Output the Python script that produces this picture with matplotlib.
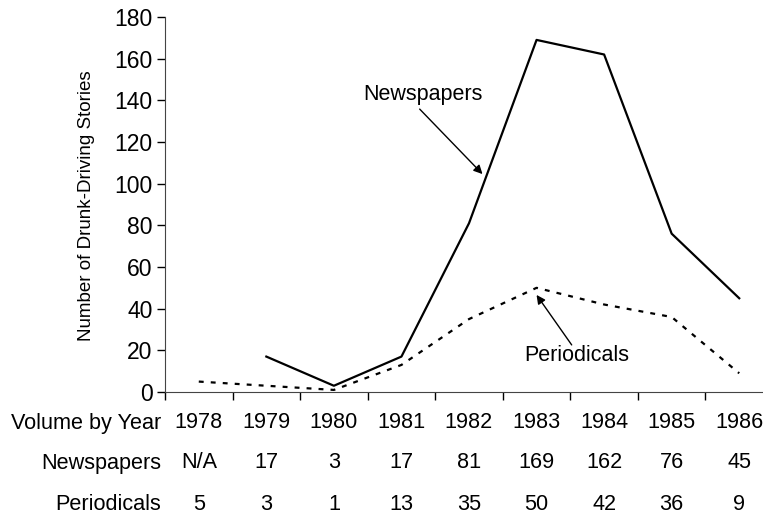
import numpy as np
import matplotlib
matplotlib.use("Agg")
import matplotlib.pyplot as plt

plt.rcParams['font.family'] = ['Liberation Sans', 'DejaVu Sans']

years = ['1978', '1979', '1980', '1981', '1982', '1983', '1984', '1985', '1986']
newspapers = [np.nan, 17, 3, 17, 81, 169, 162, 76, 45]
periodicals = [5, 3, 1, 13, 35, 50, 42, 36, 9]
news_labels = ['N/A', '17', '3', '17', '81', '169', '162', '76', '45']
per_labels = ['5', '3', '1', '13', '35', '50', '42', '36', '9']

fig = plt.figure(figsize=(7.63, 5.17), dpi=100)
W, H = 763, 517
ax = fig.add_axes([165 / W, (H - 392) / H, 608 / W, 375 / H])

x = np.arange(len(years)) + 0.5
ax.plot(x, newspapers, color='black', lw=1.6)
ax.plot(x, periodicals, color='black', lw=1.6, ls=(0, (2.2, 3.2)))

ax.set_xlim(0, 9)
ax.set_ylim(0, 180)
ax.set_yticks(range(0, 181, 20))
ax.set_xticks(range(0, 10))
ax.set_xticklabels([])
ax.tick_params(axis='y', labelsize=16.5, length=6, width=1, direction='out', pad=3)
ax.tick_params(axis='x', length=6, width=1, direction='out')
for s in ['top', 'right']:
    ax.spines[s].set_visible(False)
ax.spines['left'].set_color('#444444')
ax.spines['bottom'].set_color('#444444')
ax.set_ylabel('Number of Drunk-Driving Stories', fontsize=13.5)
ax.yaxis.set_label_coords(-0.115, 0.496)

# callouts: label text plus a separate arrow
ax.text(3.82, 142.6, 'Newspapers', fontsize=15.5, ha='center', va='center')
ax.annotate('', xy=(4.70, 104.6), xytext=(3.77, 135.8),
            arrowprops=dict(arrowstyle='-|>', color='black', lw=1,
                            shrinkA=0, shrinkB=0, mutation_scale=13))
ax.text(6.10, 17.3, 'Periodicals', fontsize=15.5, ha='center', va='center')
ax.annotate('', xy=(5.50, 46.6), xytext=(6.02, 22.6),
            arrowprops=dict(arrowstyle='-|>', color='black', lw=1,
                            shrinkA=0, shrinkB=0, mutation_scale=13))

# table beneath the axis
row_y = [423, 463, 505]
row_names = ['Volume by Year', 'Newspapers', 'Periodicals']
rows = [years, news_labels, per_labels]
for name, vals, py in zip(row_names, rows, row_y):
    fy = 1 - py / H
    fig.text(161 / W, fy, name, fontsize=15.6, ha='right', va='center')
    for xi, v in zip(x, vals):
        fx = (165 + xi * 608 / 9) / W
        fig.text(fx, fy, v, fontsize=15.6, ha='center', va='center')

fig.savefig('out.png', dpi=100)
